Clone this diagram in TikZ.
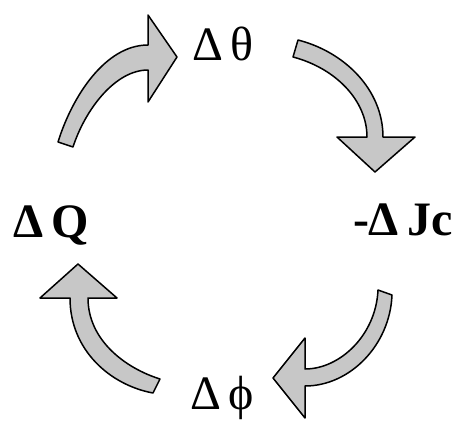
\documentclass[tikz,border=0pt]{standalone}
\usepackage{fontspec}
\setmainfont{Liberation Serif}
\begin{document}
\begin{tikzpicture}[x=1pt,y=-1pt,
  blockarrow/.style={draw=black,fill=black!22,line width=1.5pt,line join=round},
  lbl/.style={anchor=base west,inner sep=0pt,outer sep=0pt,font=\fontsize{48}{58}\selectfont},
  lblb/.style={lbl,font=\fontsize{48}{58}\selectfont\bfseries}]
\useasboundingbox (0,0) rectangle (456,421);
% labels
\node[lbl]  (theta) at (192,60)  {Δ\,θ};
\node[lblb] (jc)    at (353,235) {-Δ\,Jc};
\node[lbl]  (phi)   at (190,409) {Δ\,ϕ};
\node[lblb] (q)     at (13,237)  {Δ\,Q};
% arrow Q -> theta
\draw[blockarrow] (58,142) .. controls (72,97) and (105,45) .. (148,45)
  -- (148,15) -- (177,57) -- (148,102) -- (148,70)
  .. controls (115,70) and (85,110) .. (73,147) -- cycle;
% arrow theta -> Jc
\draw[blockarrow] (298,40) .. controls (345,52) and (383,90) .. (383,137)
  -- (415,137) -- (375,172) -- (337,137) -- (367,137)
  .. controls (367,100) and (335,68) .. (293,57) -- cycle;
% arrow Jc -> phi
\draw[blockarrow] (392,295) .. controls (390,345) and (350,386) .. (305,386)
  -- (305,418) -- (273,378) -- (305,338) -- (305,369)
  .. controls (340,369) and (376,335) .. (378,290) -- cycle;
% arrow phi -> Q
\draw[blockarrow] (153,393) .. controls (110,385) and (70,350) .. (70,298)
  -- (40,298) -- (78,264) -- (117,298) -- (88,298)
  .. controls (88,340) and (125,368) .. (160,379) -- cycle;
\end{tikzpicture}
\end{document}
